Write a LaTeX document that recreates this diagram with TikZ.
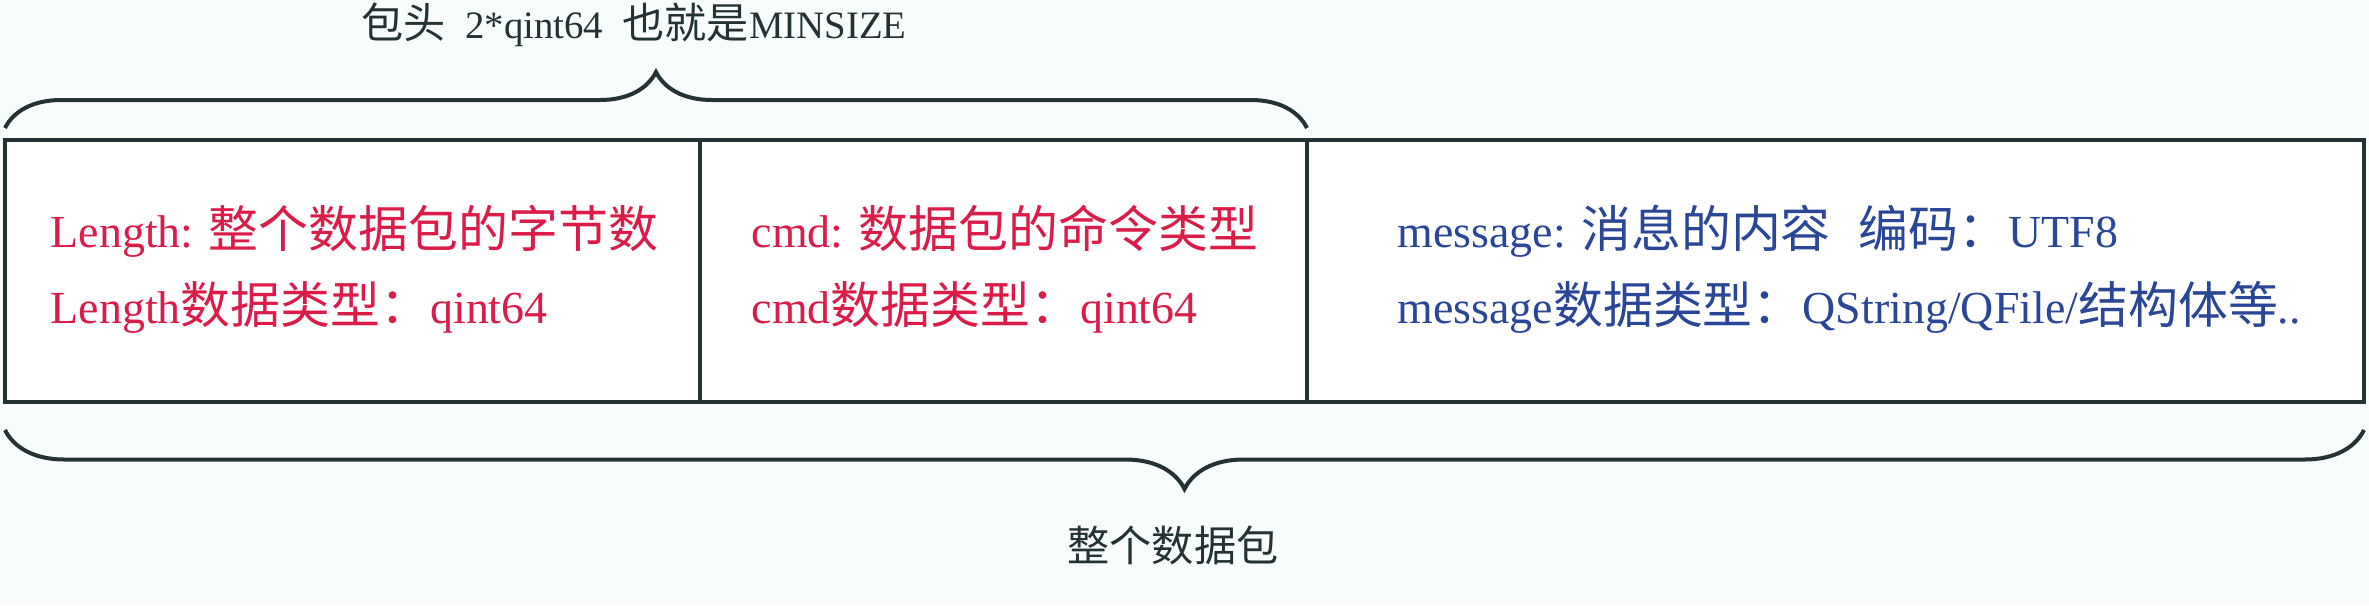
\documentclass[tikz,border=0pt]{standalone}
\usepackage{fontspec}
\setmainfont{Liberation Serif}[Scale=0.92]
\newfontfamily\cjk{Noto Sans CJK SC}
\usetikzlibrary{decorations.pathreplacing,positioning}
\definecolor{ink}{HTML}{243232}
\definecolor{redtxt}{HTML}{DC1C48}
\definecolor{bluetxt}{HTML}{2A4697}
\definecolor{paper}{HTML}{F8FCFD}
\tikzset{
  cell/.style     = {draw=ink, line width=0.04cm, fill=white, anchor=north west,
                     minimum height=2.62cm, inner sep=0pt, outer sep=0pt},
  fieldtxt/.style = {anchor=base west, inner sep=0pt,
                     font=\fontsize{14.2}{17}\selectfont},
  brc/.style      = {draw=ink, line width=0.04cm, decorate,
                     decoration={brace, amplitude=#1}},
  brc/.default    = 0.56cm,
  lbl/.style      = {text=ink, inner sep=0pt, font=\fontsize{12}{14}\selectfont}
}
\newcommand{\zh}[1]{{\cjk #1}}

\begin{document}
\begin{tikzpicture}
% ---- canvas ----
\fill[paper] (0,0) rectangle (23.69,6.05);
\useasboundingbox (0,0) rectangle (23.69,6.05);

% ---- the three fields of a packet ----
\node[cell, minimum width=6.95cm]  (lenbox) at (0.05,4.65) {};
\node[cell, minimum width=6.07cm]  (cmdbox) at (lenbox.north east) {};
\node[cell, minimum width=10.57cm] (msgbox) at (cmdbox.north east) {};

% ---- field texts ----
\node[fieldtxt, text=redtxt]  (len1) at (0.50,3.58)  {Length: \zh{整个数据包的字节数}};
\node[fieldtxt, text=redtxt]  (len2) at (0.50,2.82)  {Length\zh{数据类型：}qint64};
\node[fieldtxt, text=redtxt]  (cmd1) at (7.51,3.58)  {cmd: \zh{数据包的命令类型}};
\node[fieldtxt, text=redtxt]  (cmd2) at (7.51,2.82)  {cmd\zh{数据类型：}qint64};
\node[fieldtxt, text=bluetxt] (msg1) at (13.97,3.58) {message: \zh{消息的内容}\hspace{0.28cm}\zh{编码：}UTF8};
\node[fieldtxt, text=bluetxt] (msg2) at (13.97,2.82) {message\zh{数据类型：}QString/QFile/\zh{结构体等}..};

% ---- braces and their labels ----
\draw[brc] ([yshift=0.12cm]lenbox.north west) -- ([yshift=0.12cm]cmdbox.north east);
\draw[brc=0.59cm] ([yshift=-0.28cm]msgbox.south east) -- ([yshift=-0.28cm]lenbox.south west);
\node[lbl] (headlbl) at (6.34,5.80) {\zh{包头}\ \ 2*qint64\ \ \zh{也就是}MINSIZE};
\node[lbl] (pktlbl)  at (11.73,0.60) {\zh{整个数据包}};
\end{tikzpicture}
\end{document}
